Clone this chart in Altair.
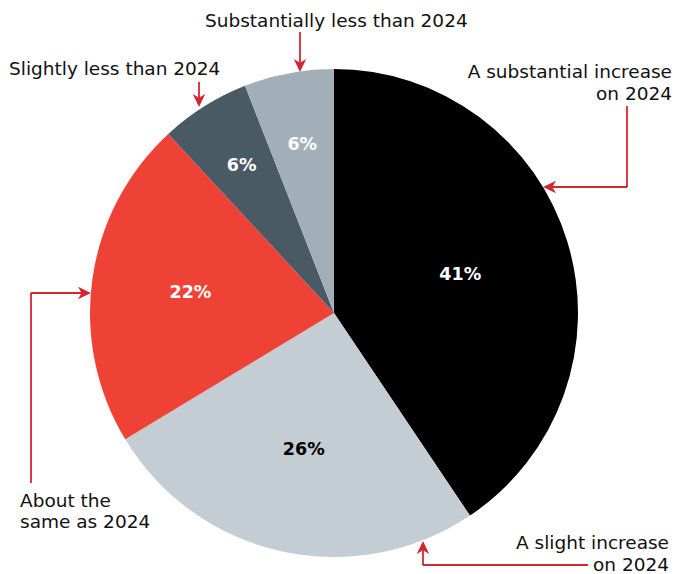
import altair as alt
import pandas as pd

# ---- data ----
categories = ["A substantial increase on 2024", "A slight increase on 2024",
              "About the same as 2024", "Slightly less than 2024",
              "Substantially less than 2024"]
values = [41, 26, 22, 6, 6]
colors = ["#000000", "#c3cdd3", "#ef4237", "#4a5a65", "#a2afb8"]
label_colors = ["#ffffff", "#000000", "#ffffff", "#ffffff", "#ffffff"]
label_radius = [132, 140, 145, 174, 171]

# ---- annotations (canvas pixel layout) ----
ann_left_text = ["Substantially less than 2024", "Slightly less than 2024", "About the", "same as 2024"]
ann_left_x = [205, 9, 20, 20]
ann_left_y = [27, 75, 507, 528]
ann_right_text = ["A substantial increase", "on 2024", "A slight increase", "on 2024"]
ann_right_x = [672, 672, 669, 669]
ann_right_y = [78, 100, 549, 571]
seg_x1 = [300, 199, 627, 627, 31, 31, 588, 423]
seg_y1 = [32, 82, 106, 187, 483, 293, 565, 565]
seg_x2 = [300, 199, 627, 549, 31, 85, 423, 423]
seg_y2 = [66, 101, 187, 187, 293, 293, 565, 547]
tip_x = [300, 199, 543, 91, 423]
tip_y = [72, 107, 187, 293, 541]
tip_angle = [180, 180, 270, 90, 0]

W, H = 668, 522
PAD_TOP = 52
CX, CY = 334, 313
ARROW = "#d42630"
FONT = "DejaVu Sans"

df = pd.DataFrame({"cat": categories, "value": values, "order": list(range(len(values))),
                   "label": [f"{v}%" for v in values], "lc": label_colors, "lr": label_radius})

pie = alt.Chart(df).mark_arc(outerRadius=244).encode(
    theta=alt.Theta("value:Q", stack=True),
    order=alt.Order("order:Q"),
    color=alt.Color("cat:N", scale=alt.Scale(domain=categories, range=colors), legend=None),
)
labels = alt.Chart(df).transform_joinaggregate(
    total="sum(value)"
).transform_window(
    cum="sum(value)", sort=[alt.SortField("order")], frame=[None, 0]
).transform_calculate(
    mid="(datum.cum - datum.value / 2) / datum.total * 2 * PI",
).transform_calculate(
    px=f"{CX} + datum.lr * sin(datum.mid)",
    py=f"{CY - PAD_TOP} - datum.lr * cos(datum.mid)",
).mark_text(font=FONT, fontSize=17.5, fontWeight="bold", baseline="middle").encode(
    x=alt.X("px:Q", scale=None), y=alt.Y("py:Q", scale=None),
    text="label:N",
    color=alt.Color("lc:N", scale=None),
)

seg_df = pd.DataFrame({"x1": seg_x1, "y1": [v - PAD_TOP for v in seg_y1],
                       "x2": seg_x2, "y2": [v - PAD_TOP for v in seg_y2]})
segs = alt.Chart(seg_df).mark_rule(color=ARROW, strokeWidth=1.8).encode(
    x=alt.X("x1:Q", scale=None), y=alt.Y("y1:Q", scale=None),
    x2="x2:Q", y2="y2:Q",
)
tip_df = pd.DataFrame({"x": tip_x, "y": [v - PAD_TOP for v in tip_y], "a": tip_angle})
tips = alt.Chart(tip_df).mark_point(
    shape="M0,0 L-0.48,1 L0,0.72 L0.48,1 Z", filled=True, color=ARROW, opacity=1, size=676
).encode(
    x=alt.X("x:Q", scale=None), y=alt.Y("y:Q", scale=None),
    angle=alt.Angle("a:Q", scale=None),
)
left_df = pd.DataFrame({"t": ann_left_text, "x": ann_left_x, "y": [v - PAD_TOP for v in ann_left_y]})
left_txt = alt.Chart(left_df).mark_text(align="left", baseline="alphabetic", font=FONT,
                                        fontSize=18.5, color="#111111").encode(
    x=alt.X("x:Q", scale=None), y=alt.Y("y:Q", scale=None), text="t:N")
right_df = pd.DataFrame({"t": ann_right_text, "x": ann_right_x, "y": [v - PAD_TOP for v in ann_right_y]})
right_txt = alt.Chart(right_df).mark_text(align="right", baseline="alphabetic", font=FONT,
                                          fontSize=18.5, color="#111111").encode(
    x=alt.X("x:Q", scale=None), y=alt.Y("y:Q", scale=None), text="t:N")

chart = alt.layer(pie, labels, segs, tips, left_txt, right_txt).properties(
    width=W, height=H,
    autosize=alt.AutoSizeParams(type="none"),
    padding={"left": 0, "top": PAD_TOP, "right": 7, "bottom": 0},
    background="#ffffff",
).configure_view(stroke=None)

chart.save("out.html", embed_options={"renderer": "svg", "actions": False})
